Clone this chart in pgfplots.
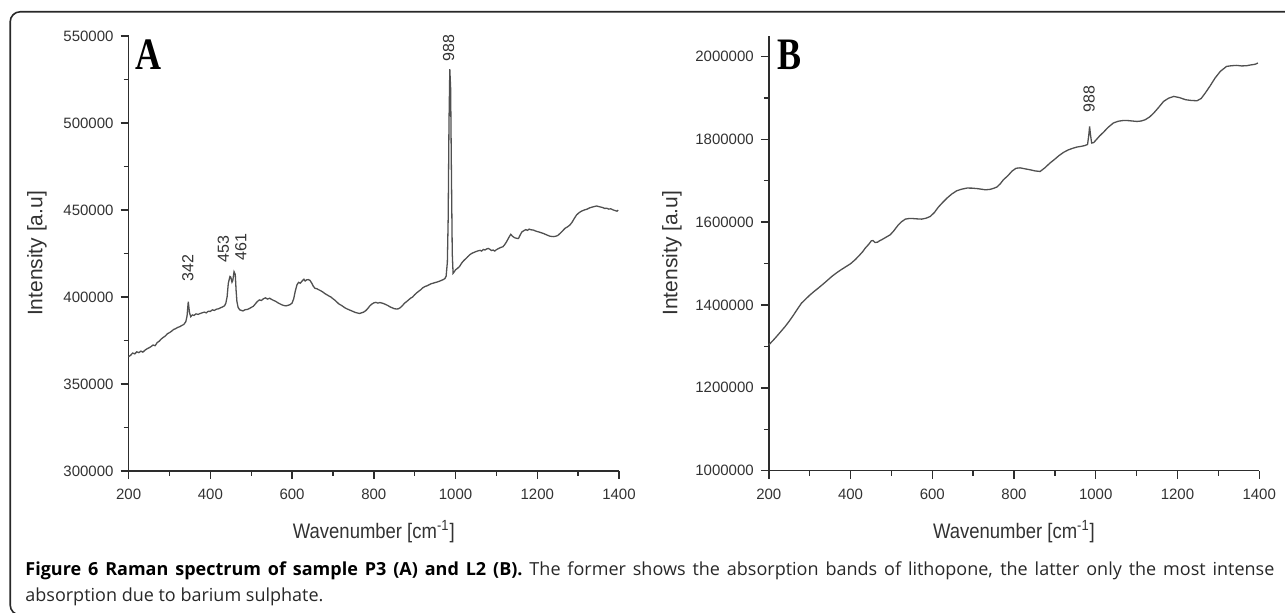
\documentclass[border=0pt]{standalone}
\usepackage{fontspec}
\setmainfont{Liberation Sans}
\newfontfamily\capfont{Open Sans}
\newfontfamily\panelfont[FakeStretch=0.8]{Liberation Serif}
\newfontfamily\labfont[FakeStretch=0.88]{Liberation Sans}
\usepackage{pgfplots}
\pgfplotsset{compat=1.18}
\definecolor{axiscol}{RGB}{45,45,45}
\definecolor{labcol}{RGB}{50,50,50}
\definecolor{linecol}{RGB}{80,80,80}
\definecolor{framecol}{RGB}{40,40,40}
\pgfplotsset{raman/.style={
  scale only axis, width=245.2pt, height=217.5pt, anchor=south west,
  axis x line*=bottom, axis y line*=left,
  xmin=200, xmax=1400, xtick={200,400,600,800,1000,1200,1400}, minor x tick num=1,
  minor y tick num=1,
  tick align=outside, major tick length=4pt, minor tick length=2.5pt,
  axis line style={line width=0.8pt, color=axiscol},
  every tick/.style={line width=0.7pt, color=axiscol},
  tick label style={font=\fontsize{7.5}{8}\selectfont, color=labcol},
  xticklabel style={yshift=-1.5pt},
  scaled y ticks=false,
  /pgf/number format/fixed, /pgf/number format/1000 sep={},
  /pgf/number format/assume math mode=true,
  xlabel={\labfont Wavenumber [cm\textsuperscript{-1}]},
  ylabel={Intensity [a.u]},
  label style={font=\fontsize{10.5}{12}\selectfont, color=labcol},
  xlabel style={at={(axis description cs:0.5,-0.140)}, anchor=center},
  clip=false,
}}
\begin{document}
\begin{tikzpicture}
\useasboundingbox (0,0) rectangle (642.5pt,306.5pt);
\draw[line width=0.8pt, color=framecol, rounded corners=5pt] (700pt,300.6pt) -- (5.1pt,300.6pt) -- (5.1pt,-1pt) -- (700pt,-1pt);
% Panel A
\begin{axis}[raman, at={(64.3pt,71pt)},
  ymin=300000, ymax=550000, ytick={300000,350000,400000,450000,500000,550000},
  ylabel style={at={(axis description cs:-0.1868,0.5)}, anchor=center}]
\addplot[color=linecol, line width=0.65pt] coordinates {
(200,365700)(205,366500)(210,367800)(215,367300)(220,368500)(225,368000)(230,368900)(235,368300)
(240,369400)(245,370200)(250,370800)(255,371500)(260,372400)(265,372000)(270,373800)(275,374600)
(280,375900)(285,376800)(290,377600)(295,378900)(300,379500)(305,380300)(310,381300)(315,381800)
(320,382500)(325,382900)(330,383600)(335,384200)(340,385800)(343,389000)(346,397300)(349,391000)
(352,388700)(356,389700)(360,389400)(365,390300)(370,390000)(375,390500)(380,390900)(385,391300)
(390,390900)(395,391800)(400,391700)(405,392600)(410,392300)(415,393000)(420,393200)(425,393800)
(430,394300)(435,395000)(438,396500)(441,400000)(444,407900)(448,411800)(450,411500)(453,408500)
(455,409500)(458,414500)(461,413000)(463,404000)(465,397500)(468,394000)(472,392600)(476,392300)
(480,392000)(485,392700)(490,392800)(495,393300)(500,394000)(505,394600)(510,396000)(515,397400)
(520,398300)(525,398000)(530,399000)(535,399500)(540,398800)(545,399300)(550,398600)(555,398000)
(560,397500)(565,396700)(570,396100)(575,395500)(580,395100)(585,394900)(590,395200)(595,395600)
(600,396500)(604,399000)(608,403500)(612,407000)(616,408400)(620,407900)(625,409300)(629,410200)
(632,409200)(636,409900)(640,410000)(644,409500)(648,408000)(652,406200)(656,405000)(660,404800)
(665,404200)(670,403600)(675,402900)(680,402000)(685,401300)(690,400600)(695,400000)(700,399000)
(705,398100)(710,397000)(715,395900)(720,395300)(725,394500)(730,393700)(735,393100)(740,392600)
(745,392100)(750,391600)(755,391100)(760,390800)(765,390500)(770,390900)(775,391300)(780,392100)
(785,393300)(790,394800)(795,395900)(800,396600)(805,396900)(810,396500)(815,396800)(820,396500)
(825,396100)(830,395600)(835,395000)(840,394300)(845,393800)(850,393300)(855,393100)(860,393200)
(865,393900)(870,395000)(875,396400)(880,397300)(885,398300)(890,399300)(895,400000)(900,401300)
(905,402400)(910,403300)(915,404200)(920,405300)(925,406000)(930,406400)(935,407000)(940,407600)
(945,407900)(950,408300)(955,408600)(960,409000)(965,409500)(970,410000)(974,410600)(977,412000)
(980,420000)(982,445000)(984,500000)(986,530900)(988,520000)(990,470000)(992,425000)(994,413600)
(997,414500)(1000,415600)(1005,416500)(1010,417600)(1015,419500)(1020,420900)(1025,422000)(1030,423200)
(1035,424300)(1040,425100)(1045,425600)(1050,426100)(1055,426500)(1060,426800)(1064,426400)(1068,427300)
(1072,427000)(1076,427600)(1080,427900)(1084,427400)(1088,426700)(1092,427000)(1096,426400)(1100,427200)
(1105,427800)(1110,428400)(1116,428900)(1120,430000)(1125,431800)(1130,434000)(1135,436000)(1140,434800)
(1145,434000)(1150,433700)(1154,433600)(1158,435500)(1162,437300)(1167,438100)(1172,438700)(1176,438300)
(1180,439000)(1185,438600)(1190,438500)(1195,438000)(1200,437600)(1205,437300)(1210,436900)(1215,436500)
(1220,436000)(1225,435500)(1230,435000)(1235,434800)(1240,434700)(1245,434900)(1250,435300)(1256,436600)
(1262,438000)(1268,439500)(1274,440300)(1280,441400)(1285,442900)(1290,444900)(1296,447100)(1302,448400)
(1308,449300)(1315,450000)(1321,450400)(1328,451200)(1335,451700)(1340,452000)(1345,452300)(1350,452000)
(1355,451700)(1360,451400)(1365,450900)(1370,451000)(1375,450500)(1380,450700)(1385,450100)(1390,449700)
(1395,449300)(1398,450000)
};
\node[rotate=90, font=\fontsize{8}{9}\selectfont, color=labcol] at (axis cs:983,543200) {988};
\node[rotate=90, font=\fontsize{8}{9}\selectfont, color=labcol] at (axis cs:345,416700) {342};
\node[rotate=90, font=\fontsize{8}{9}\selectfont, color=labcol] at (axis cs:432,427600) {453};
\node[rotate=90, font=\fontsize{8}{9}\selectfont, color=labcol] at (axis cs:475,428900) {461};
\node[font=\panelfont\bfseries\fontsize{22.5}{24}\selectfont, color=black] at (axis description cs:0.0406,0.956) {A};
\end{axis}
% Panel B
\begin{axis}[raman, at={(384.4pt,71.15pt)},
  ymin=1000000, ymax=2050000, ytick={1000000,1200000,1400000,1600000,1800000,2000000},
  ylabel style={at={(axis description cs:-0.1975,0.5)}, anchor=center}]
\addplot[color=linecol, line width=0.65pt] coordinates {
(200,1303700)(210,1314000)(220,1325000)(230,1336500)(240,1348000)(250,1361000)(260,1375000)(270,1390000)
(280,1404400)(290,1414000)(300,1423500)(310,1432000)(321,1440700)(330,1448000)(340,1456500)(354,1468700)
(365,1477000)(376,1484500)(387,1491400)(400,1499500)(411,1509000)(420,1518000)(430,1529000)(436,1537200)
(445,1547000)(451,1554900)(455,1555500)(460,1550800)(466,1551500)(471,1555000)(476,1557300)(485,1562500)
(497,1569400)(505,1578000)(512,1587000)(517,1593500)(525,1601000)(534,1607200)(542,1608500)(550,1608800)
(560,1608000)(574,1607200)(585,1609500)(595,1613600)(605,1623000)(615,1636300)(625,1647000)(636,1658000)
(648,1668000)(660,1675700)(672,1679500)(685,1682200)(697,1682000)(709,1681000)(720,1679500)(730,1678000)
(741,1679000)(750,1681500)(758,1684600)(766,1692000)(774,1702200)(785,1712000)(795,1723000)(805,1730000)
(815,1731000)(825,1729000)(839,1726400)(852,1723500)(864,1722300)(876,1731500)(888,1742600)(900,1752000)
(910,1760500)(921,1768200)(932,1774000)(943,1778000)(954,1781200)(965,1783000)(974,1785000)(980,1787500)
(983,1810000)(985,1830900)(987,1812000)(990,1790900)(995,1792000)(1000,1797500)(1010,1808500)(1020,1818000)
(1030,1828500)(1043,1839200)(1055,1843500)(1068,1845400)(1080,1845000)(1090,1844000)(1101,1843000)(1111,1844000)
(1121,1847100)(1132,1854000)(1142,1863300)(1154,1877000)(1166,1891300)(1178,1899000)(1191,1903400)(1205,1900500)
(1220,1895400)(1235,1893500)(1248,1893000)(1258,1898500)(1268,1911600)(1280,1929000)(1292,1947800)(1305,1964000)
(1320,1975800)(1332,1977500)(1345,1978300)(1357,1977000)(1369,1977500)(1380,1979500)(1390,1981000)(1397,1984000)
};
\node[rotate=90, font=\fontsize{8}{9}\selectfont, color=labcol] at (axis cs:984,1897400) {988};
\node[font=\panelfont\bfseries\fontsize{22.5}{24}\selectfont, color=black] at (axis description cs:0.0424,0.956) {B};
\end{axis}
% Caption
\node[anchor=base west, inner sep=0, color=black] at (12.5pt,18.5pt) {\capfont\fontsize{9}{11}\selectfont\makebox[624.5pt][s]{\bfseries Figure 6 Raman spectrum of sample P3 (A) and L2 (B). \mdseries\color[RGB]{40,40,40}The former shows the absorption bands of lithopone, the latter only the most intense}};
\node[anchor=base west, inner sep=0, color={rgb,255:red,40;green,40;blue,40}] at (12.5pt,5.65pt) {\capfont\fontsize{9}{11}\selectfont absorption due to barium sulphate.};
\end{tikzpicture}
\end{document}
